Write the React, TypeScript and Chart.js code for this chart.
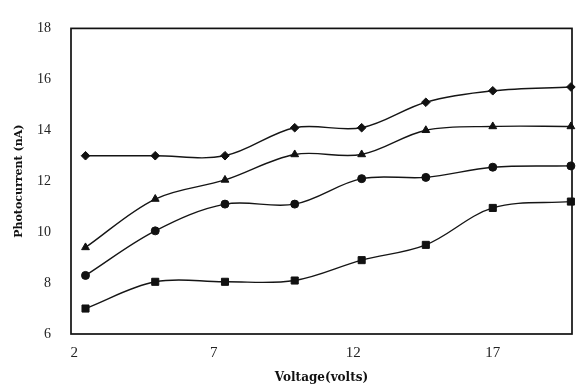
import React, { useEffect, useRef } from "react";
import { Chart, registerables } from "chart.js";

Chart.register(...registerables);

const voltage = [2.4, 4.9, 7.4, 9.9, 12.3, 14.6, 17.0, 19.8];
const seriesDiamond = [13.0, 13.0, 13.0, 14.1, 14.1, 15.1, 15.55, 15.7];
const seriesTriangle = [9.4, 11.3, 12.05, 13.05, 13.05, 14.0, 14.15, 14.15];
const seriesCircle = [8.3, 10.05, 11.1, 11.1, 12.1, 12.15, 12.55, 12.6];
const seriesSquare = [7.0, 8.05, 8.05, 8.1, 8.9, 9.5, 10.95, 11.2];
const xTicks = [2, 7, 12, 17];
const yTicks = [6, 8, 10, 12, 14, 16, 18];

const frame = {
  id: "frame",
  afterDatasetsDraw(chart: any) {
    const { ctx, chartArea } = chart;
    ctx.save();
    ctx.strokeStyle = "#111";
    ctx.lineWidth = 1.7;
    ctx.strokeRect(chartArea.left, chartArea.top, chartArea.right - chartArea.left, chartArea.bottom - chartArea.top);
    ctx.restore();
  },
};

export default function App() {
  const ref = useRef<HTMLCanvasElement>(null);
  useEffect(() => {
    document.body.style.margin = "0";
    const mk = (data: number[], style: string, radius: number) => ({
      data: data.map((y, i) => ({ x: voltage[i], y })),
      borderColor: "#151515",
      backgroundColor: "#111",
      borderWidth: 1.4,
      pointStyle: style,
      pointRadius: radius,
      pointBorderWidth: 1,
      pointBorderColor: "#111",
      pointBackgroundColor: "#111",
      tension: 0.35,
      clip: false as any,
    });
    const chart = new Chart(ref.current!, {
      type: "line",
      data: {
        datasets: [
          mk(seriesDiamond, "rectRot", 4.3),
          mk(seriesTriangle, "triangle", 4.5),
          mk(seriesCircle, "circle", 4),
          mk(seriesSquare, "rect", 5),
        ],
      },
      options: {
        animation: false,
        responsive: false,
        layout: { padding: { left: 0, right: 16, top: 17, bottom: 0 } },
        plugins: { legend: { display: false }, tooltip: { enabled: false } },
        scales: {
          x: {
            type: "linear",
            min: 1.88,
            max: 19.84,
            grid: { display: false, drawTicks: false },
            border: { display: false },
            afterBuildTicks: (s: any) => {
              s.ticks = xTicks.map((v) => ({ value: v }));
            },
            afterFit: (s: any) => {
              s.height = 53;
            },
            ticks: {
              padding: 10,
              color: "#222",
              font: { family: "Liberation Serif", size: 15 },
              callback: (v: any) => String(v),
            },
            title: {
              display: true,
              text: "Voltage(volts)",
              color: "#111",
              font: { family: "DejaVu Serif", size: 12, weight: "bold" },
              padding: { top: 0, bottom: 2 },
            },
          },
          y: {
            type: "linear",
            min: 6,
            max: 18,
            grid: { display: false, drawTicks: false },
            border: { display: false },
            afterBuildTicks: (s: any) => {
              s.ticks = yTicks.map((v) => ({ value: v }));
            },
            afterFit: (s: any) => {
              s.width = 71;
            },
            ticks: {
              padding: 20,
              color: "#222",
              font: { family: "Liberation Serif", size: 14 },
              callback: (v: any) => String(v),
            },
            title: {
              display: true,
              text: "Photocurrent (nA)",
              color: "#111",
              font: { family: "DejaVu Serif", size: 11, weight: "bold" },
              padding: { top: 13, bottom: 0 },
            },
          },
        },
      },
      plugins: [frame],
    });
    return () => chart.destroy();
  }, []);
  return (
    <div style={{ width: 588, height: 387 }}>
      <canvas ref={ref} width={588} height={387} style={{ width: 588, height: 387 }} />
    </div>
  );
}
